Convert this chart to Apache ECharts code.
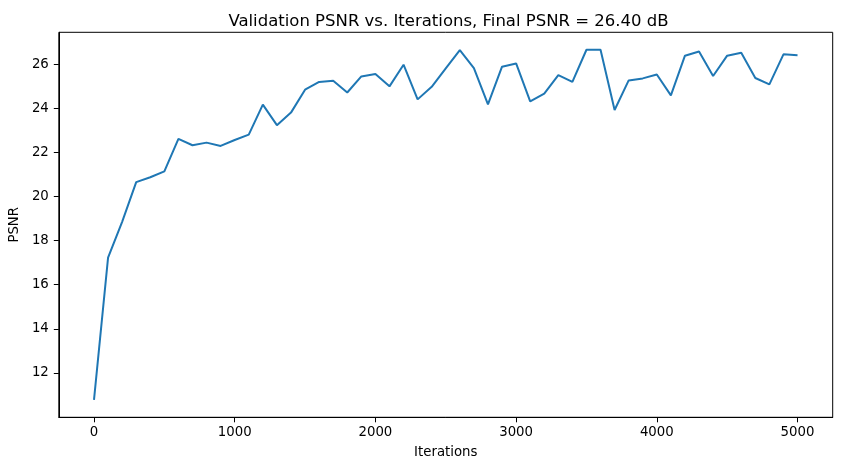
<!DOCTYPE html>
<html>
<head>
<meta charset="utf-8">
<script src="https://cdn.jsdelivr.net/npm/echarts@6/dist/echarts.min.js"></script>
<style>
html,body{margin:0;padding:0;background:#fff;}
#c{width:842px;height:470px;}
</style>
</head>
<body>
<div id="c"></div>
<script>
var iterations = [0,100,200,300,400,500,600,700,800,900,1000,1100,1200,1300,1400,1500,1600,1700,1800,1900,2000,2100,2200,2300,2400,2500,2600,2700,2800,2900,3000,3100,3200,3300,3400,3500,3600,3700,3800,3900,4000,4100,4200,4300,4400,4500,4600,4700,4800,4900,5000];
var psnr = [10.78,17.23,18.85,20.65,20.87,21.14,22.61,22.32,22.44,22.29,22.56,22.80,24.16,23.23,23.80,24.84,25.19,25.24,24.71,25.44,25.55,24.99,25.97,24.40,24.97,25.80,26.63,25.82,24.17,25.88,26.03,24.31,24.66,25.50,25.19,26.65,26.65,23.92,25.26,25.35,25.53,24.58,26.38,26.57,25.46,26.38,26.51,25.37,25.08,26.44,26.40];
var xTicks = [0,1000,2000,3000,4000,5000];
var yTicks = [12,14,16,18,20,22,24,26];
var titleText = 'Validation PSNR vs. Iterations, Final PSNR = 26.40 dB';

var pairs = iterations.map(function(it,i){return [it, psnr[i]];});
var font = 'DejaVu Sans';
var chart = echarts.init(document.getElementById('c'), null, {renderer:'canvas'});
chart.setOption({
  animation:false,
  backgroundColor:'#fff',
  title:{
    text:titleText,
    left:443.5, top:8, textAlign:'center',
    textStyle:{fontFamily:font,fontSize:16.5,fontWeight:'normal',color:'#000'}
  },
  grid:{left:57.3,right:9.3,top:32.3,bottom:52.7,show:true,borderColor:'#000',borderWidth:1,backgroundColor:'#fff'},
  xAxis:{
    type:'value', min:-250, max:5250,
    name:'Iterations', nameLocation:'middle', nameGap:29,
    nameTextStyle:{fontFamily:font,fontSize:13.3,color:'#000'},
    axisLine:{show:true,onZero:false,lineStyle:{color:'#000',width:1}},
    axisTick:{show:true,customValues:xTicks,length:5,lineStyle:{color:'#000',width:1}},
    axisLabel:{customValues:xTicks,fontFamily:font,fontSize:13.3,color:'#000',margin:9,formatter:function(v){return String(Math.round(v));}},
    splitLine:{show:false}
  },
  yAxis:{
    type:'value', min:9.99, max:27.44,
    name:'PSNR', nameLocation:'middle', nameGap:35, nameRotate:90,
    nameTextStyle:{fontFamily:font,fontSize:13.3,color:'#000'},
    axisLine:{show:true,onZero:false,lineStyle:{color:'#000',width:1}},
    axisTick:{show:true,customValues:yTicks,length:5,lineStyle:{color:'#000',width:1}},
    axisLabel:{customValues:yTicks,fontFamily:font,fontSize:13.3,color:'#000',margin:10,formatter:function(v){return String(Math.round(v));}},
    splitLine:{show:false}
  },
  series:[{
    type:'line', data:pairs, showSymbol:false, symbol:'none',
    lineStyle:{color:'#1f77b4',width:2}, itemStyle:{color:'#1f77b4'}
  }]
});
</script>
</body>
</html>
